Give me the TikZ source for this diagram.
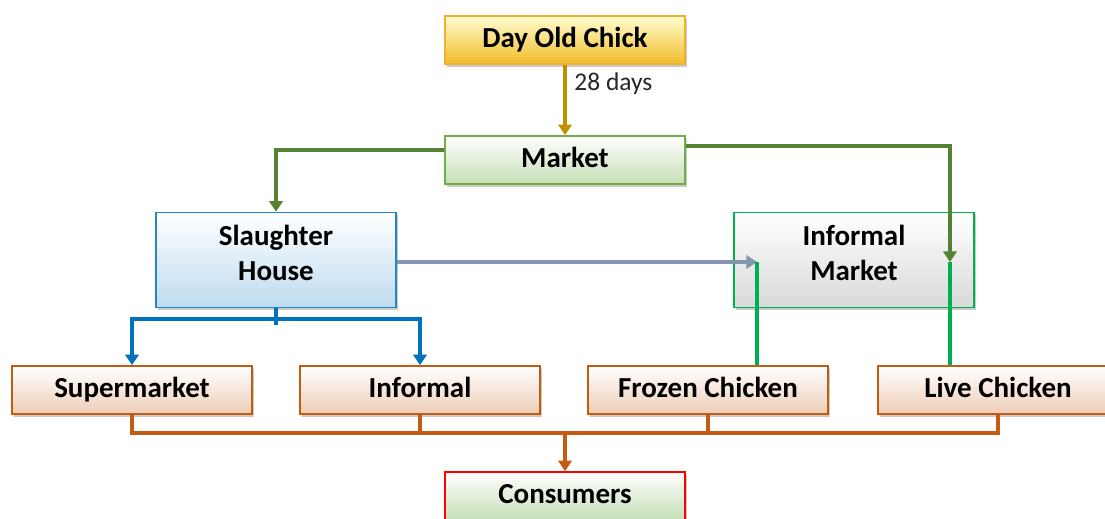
\documentclass[tikz,border=0pt]{standalone}
\usepackage{fontspec}
\setmainfont{Carlito}
\usetikzlibrary{arrows.meta,shadows}
\definecolor{chickgold}{RGB}{191,144,0}
\definecolor{chickedge}{RGB}{240,176,48}
\definecolor{mktgreen}{RGB}{112,173,71}
\definecolor{olivegreen}{RGB}{84,130,53}
\definecolor{brightgreen}{RGB}{0,176,80}
\definecolor{shblue}{RGB}{0,112,192}
\definecolor{greyblue}{RGB}{132,151,176}
\definecolor{rust}{RGB}{197,90,17}

\tikzset{
  box/.style={draw, line width=0.9pt, minimum width=4.8cm, minimum height=0.96cm,
    inner sep=0pt, align=center, font=\fontsize{16.5}{20}\selectfont\bfseries,
    text height=11.5pt, text depth=3.5pt,
    shading=axis, shading angle=0, top color=white,
    drop shadow={shadow xshift=1.2pt, shadow yshift=-1.5pt, opacity=0.35, fill=black!60}},
  tallbox/.style={box, minimum height=1.9cm, text height=, text depth=8pt},
  chickbox/.style={box, draw=chickedge, top color=yellow!18, bottom color=chickedge!85!yellow},
  greenbox/.style={box, draw=mktgreen, bottom color=mktgreen!40},
  bluebox/.style={tallbox, draw=shblue!85, bottom color=shblue!25},
  greybox/.style={tallbox, draw=brightgreen, bottom color=black!15},
  outlet/.style={box, draw=rust, bottom color=rust!30},
  endbox/.style={box, draw=red, bottom color=mktgreen!40},
  flow/.style={line width=2.1pt},
  tip/.style={-{Triangle[width=7.5pt,length=6pt]}},
}

\begin{document}
\begin{tikzpicture}[x=0.02cm, y=-0.02cm]

\useasboundingbox (0,0) rectangle (1105,518);
\clip (0,0) rectangle (1105,518);

% ---- boxes ----
\node[chickbox] (chick) at (565,40) {Day Old Chick};
\node[greenbox] (market) at (565,160) {Market};
\node[bluebox] (slaughter) at (276,260) {Slaughter\\House};
\node[greybox] (infmarket) at (854,260) {Informal\\Market};

\node[outlet] (super) at (132,390) {Supermarket};
\node[outlet] (informal) at (420,390) {Informal};
\node[outlet] (frozen) at (708,390) {Frozen Chicken};
\node[outlet] (live) at (998,390) {Live Chicken};

\node[endbox] (consumers) at (565,496) {Consumers};

% ---- junction points ----
\coordinate (fzin) at (757,262);
\coordinate (lvin) at (950,262);
\coordinate (shsplit) at (276,319);
\coordinate (cbus) at (565,433);

% ---- chick to market ----
\draw[flow, tip, chickgold] (chick.south) -- (market.north)
  node[pos=0.27, right, xshift=1pt, font=\fontsize{14.5}{17}\selectfont, text=black!85]{28 days};

% ---- market out ----
\draw[flow, tip, olivegreen] ([yshift=0.2cm]market.west) -| (slaughter.north);
\draw[flow, tip, olivegreen] ([yshift=0.28cm]market.east) -| (lvin);

% ---- slaughter house out ----
\draw[flow, tip, greyblue] (slaughter.east |- fzin) -- (fzin);
\draw[flow, shblue] (slaughter.south) -- ([yshift=-0.12cm]shsplit);
\draw[flow, tip, shblue] (shsplit) -| (super.north);
\draw[flow, tip, shblue] (shsplit) -| (informal.north);

% ---- informal market down ----
\draw[flow, brightgreen] (fzin) -- (fzin |- frozen.north);
\draw[flow, brightgreen] (lvin) -- (lvin |- live.north);

% ---- to consumers ----
\draw[flow, rust] (super.south) |- (live.south |- cbus) -- (live.south);
\draw[flow, rust] (informal.south) -- (informal.south |- cbus);
\draw[flow, rust] (frozen.south) -- (frozen.south |- cbus);
\draw[flow, tip, rust] (cbus) -- (consumers.north);

\end{tikzpicture}
\end{document}
